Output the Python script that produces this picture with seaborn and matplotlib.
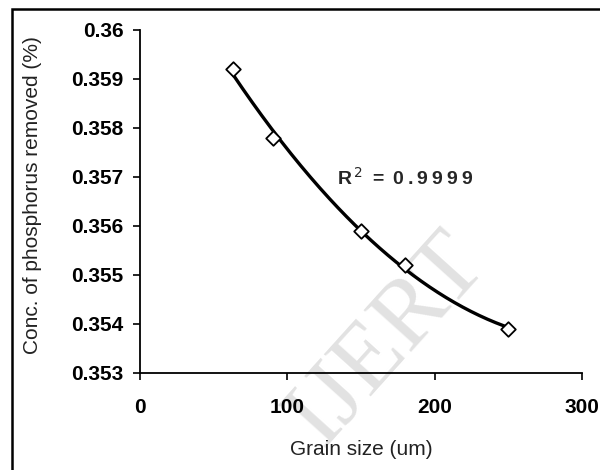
import matplotlib
matplotlib.use("Agg")
import matplotlib.pyplot as plt
from matplotlib.patches import Rectangle
import numpy as np
import pandas as pd
import seaborn as sns

grain_size = [63, 90, 150, 180, 250]
conc_removed = [0.3592, 0.3578, 0.3559, 0.3552, 0.3539]
x_ticks = [0, 100, 200, 300]
y_ticks = [0.353, 0.354, 0.355, 0.356, 0.357, 0.358, 0.359, 0.36]
y_tick_labels = ["0.353", "0.354", "0.355", "0.356", "0.357", "0.358", "0.359", "0.36"]
r2_value = "0.9999"

sns.set_theme(style="ticks")
plt.rcParams["font.family"] = ["Liberation Sans", "DejaVu Sans"]

df = pd.DataFrame({"grain": grain_size, "conc": conc_removed})

# second order trendline, like the spreadsheet one
coef = np.polyfit(df["grain"], df["conc"], 2)
xs = np.linspace(df["grain"].min(), df["grain"].max(), 200)
trend = pd.DataFrame({"grain": xs, "conc": np.polyval(coef, xs)})

fig = plt.figure(figsize=(6.0, 4.7), dpi=100)
ax = fig.add_axes([0.2333, 0.2064, 0.7367, 0.7298])

ax.text(388 / 600, 1 - 340 / 470, "IJERT", transform=fig.transFigure, rotation=48,
        fontsize=70, family=["Liberation Serif", "DejaVu Serif"],
        color="#e2e2e2", ha="center", va="center", zorder=0)

sns.lineplot(data=trend, x="grain", y="conc", ax=ax, color="black",
             linewidth=2.4, zorder=2)
sns.scatterplot(data=df, x="grain", y="conc", ax=ax, marker="D", s=55,
                facecolor="white", edgecolor="black", linewidth=1.3, zorder=3)

# spaced-out label like the spreadsheet's
spaced = "\u2009".join(r2_value)
ax.text(134, 0.35698, "R$^{\\,2}$\u2009 = \u2009" + spaced, fontsize=14,
        fontweight="bold", ha="left", va="center")

ax.set_xlim(0, 300)
ax.set_ylim(0.353, 0.36)
ax.set_xticks(x_ticks)
ax.set_yticks(y_ticks)
ax.set_yticklabels(y_tick_labels)
ax.set_xticklabels([str(t) for t in x_ticks])
for lab in ax.get_xticklabels() + ax.get_yticklabels():
    lab.set_fontweight("bold")
ax.tick_params(axis="x", direction="out", length=5, width=1.2, pad=13,
               labelsize=15, colors="black")
ax.tick_params(axis="y", direction="out", length=5, width=1.2, pad=7,
               labelsize=15, colors="black")

for side in ["top", "right"]:
    ax.spines[side].set_visible(False)
for side in ["left", "bottom"]:
    ax.spines[side].set_color("black")
    ax.spines[side].set_linewidth(1.3)
ax.patch.set_alpha(0)

ax.set_xlabel("Grain size (um)", fontsize=15, color="#222222")
ax.set_ylabel("Conc. of phosphorus removed (%)", fontsize=15, color="#222222")
ax.xaxis.set_label_coords((361 - 140) / 442, -(450 - 373) / 343)
ax.yaxis.set_label_coords(-(140 - 33) / 442, (373 - 195) / 343)
ax.xaxis.label.set_va("center")
ax.yaxis.label.set_va("center")

fig.patches.append(Rectangle((12 / 600, -0.1), 1.1, 1.1 - 9 / 470,
                             transform=fig.transFigure, fill=False,
                             edgecolor="black", linewidth=1.8, zorder=5))

fig.savefig("out.png", dpi=100)
